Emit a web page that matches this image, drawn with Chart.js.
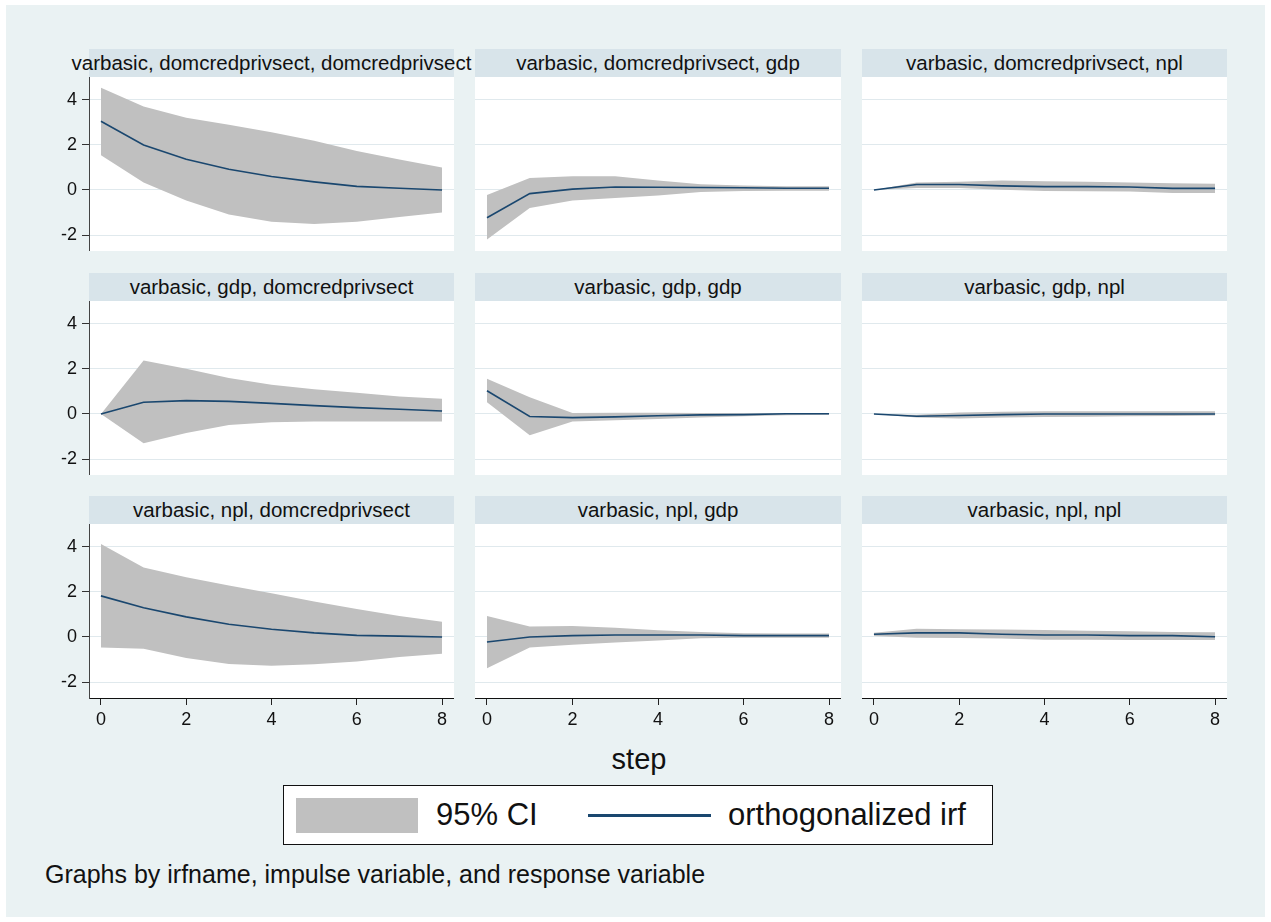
<!DOCTYPE html>
<html>
<head>
<meta charset="utf-8">
<script src="https://cdn.jsdelivr.net/npm/chart.js"></script>
<style>
  html, body { margin: 0; padding: 0; background: #ffffff; }
  body { width: 1271px; height: 922px; position: relative; overflow: hidden;
         font-family: 'Liberation Sans', Arial, sans-serif; }
  #frame { position: absolute; left: 6px; top: 5px; width: 1259px; height: 912px; background: #eaf2f3; }
  .cv { position: absolute; }
  .strip { position: absolute; height: 28px; background: #d8e4ea; z-index: 2; }
  .strip span { position: absolute; left: 50%; top: 0; transform: translateX(-50%);
                white-space: nowrap; font-size: 20.5px; line-height: 28px; color: #111; }
  #xtitle { position: absolute; left: 639px; top: 742px; transform: translateX(-50%);
            font-size: 29px; line-height: 34px; color: #111; z-index: 3; }
  #legend { position: absolute; left: 283px; top: 785px; width: 708px; height: 58px;
            background: #fff; border: 1px solid #111; z-index: 3; }
  #legend .sw { position: absolute; left: 12px; top: 12px; width: 122px; height: 35px; background: #c0c0c0; }
  #legend .t1 { position: absolute; left: 152px; top: 10px; font-size: 31px; line-height: 38px; color: #111; }
  #legend .ln { position: absolute; left: 304px; top: 28px; width: 123px; height: 3px; background: #1a476f; }
  #legend .t2 { position: absolute; left: 444px; top: 10px; font-size: 31px; line-height: 38px; color: #111; }
  #note { position: absolute; left: 45px; top: 860px; font-size: 25px; line-height: 28px; color: #111; z-index: 3; }
</style>
</head>
<body>
<div id="frame"></div>
<div id="xtitle">step</div>
<div id="legend">
  <div class="sw"></div><div class="t1">95% CI</div>
  <div class="ln"></div><div class="t2">orthogonalized irf</div>
</div>
<div id="note">Graphs by irfname, impulse variable, and response variable</div>
<script>
// ---------- data ----------
const steps = [0, 1, 2, 3, 4, 5, 6, 7, 8];
const xTickValues = [0, 2, 4, 6, 8];
const yTickValues = [-2, 0, 2, 4];
const variables = ['domcredprivsect', 'gdp', 'npl'];
const irfName = 'varbasic';

// impulse domcredprivsect
const irf_dc_dc = [3.04, 1.99, 1.36, 0.92, 0.60, 0.36, 0.16, 0.08, 0.00];
const hi_dc_dc  = [4.53, 3.70, 3.20, 2.89, 2.55, 2.18, 1.73, 1.35, 0.99];
const lo_dc_dc  = [1.54, 0.33, -0.46, -1.08, -1.41, -1.50, -1.41, -1.20, -1.00];

const irf_dc_gdp = [-1.23, -0.16, 0.04, 0.13, 0.12, 0.11, 0.10, 0.08, 0.08];
const hi_dc_gdp  = [-0.22, 0.53, 0.61, 0.61, 0.42, 0.25, 0.20, 0.17, 0.17];
const lo_dc_gdp  = [-2.19, -0.80, -0.46, -0.35, -0.24, -0.09, -0.04, -0.03, -0.03];

const irf_dc_npl = [0.00, 0.24, 0.24, 0.18, 0.15, 0.15, 0.13, 0.07, 0.07];
const hi_dc_npl  = [0.00, 0.33, 0.36, 0.42, 0.39, 0.36, 0.33, 0.30, 0.28];
const lo_dc_npl  = [0.00, 0.09, 0.09, 0.01, -0.04, -0.06, -0.07, -0.13, -0.13];

// impulse gdp
const irf_gdp_dc = [0.00, 0.52, 0.59, 0.56, 0.47, 0.37, 0.28, 0.21, 0.13];
const hi_gdp_dc  = [0.00, 2.37, 2.00, 1.59, 1.29, 1.10, 0.94, 0.77, 0.67];
const lo_gdp_dc  = [0.00, -1.30, -0.84, -0.49, -0.37, -0.33, -0.33, -0.33, -0.33];

const irf_gdp_gdp = [1.03, -0.11, -0.16, -0.13, -0.08, -0.04, -0.03, 0.01, 0.01];
const hi_gdp_gdp  = [1.56, 0.74, 0.04, 0.06, 0.06, 0.04, 0.03, 0.02, 0.02];
const lo_gdp_gdp  = [0.52, -0.94, -0.33, -0.28, -0.22, -0.16, -0.10, -0.06, -0.03];

const irf_gdp_npl = [0.00, -0.10, -0.07, -0.03, 0.00, 0.00, 0.00, 0.00, 0.00];
const hi_gdp_npl  = [0.00, -0.03, 0.07, 0.10, 0.12, 0.12, 0.12, 0.12, 0.12];
const lo_gdp_npl  = [0.00, -0.16, -0.20, -0.16, -0.13, -0.12, -0.10, -0.09, -0.07];

// impulse npl
const irf_npl_dc = [1.82, 1.29, 0.89, 0.56, 0.34, 0.18, 0.07, 0.04, 0.00];
const hi_npl_dc  = [4.12, 3.08, 2.64, 2.28, 1.93, 1.57, 1.24, 0.93, 0.67];
const lo_npl_dc  = [-0.47, -0.52, -0.93, -1.19, -1.27, -1.21, -1.08, -0.89, -0.74];

const irf_npl_gdp = [-0.22, 0.00, 0.06, 0.09, 0.09, 0.09, 0.06, 0.06, 0.06];
const hi_npl_gdp  = [0.93, 0.46, 0.49, 0.41, 0.30, 0.22, 0.16, 0.15, 0.15];
const lo_npl_gdp  = [-1.38, -0.46, -0.34, -0.24, -0.15, -0.06, -0.03, -0.03, -0.03];

const irf_npl_npl = [0.12, 0.18, 0.18, 0.12, 0.09, 0.09, 0.06, 0.06, 0.01];
const hi_npl_npl  = [0.19, 0.36, 0.34, 0.33, 0.31, 0.28, 0.25, 0.22, 0.21];
const lo_npl_npl  = [0.04, -0.03, -0.04, -0.07, -0.12, -0.12, -0.13, -0.13, -0.13];

// panels in reading order: rows = impulse, columns = response
const panelIrf = [irf_dc_dc, irf_dc_gdp, irf_dc_npl, irf_gdp_dc, irf_gdp_gdp, irf_gdp_npl, irf_npl_dc, irf_npl_gdp, irf_npl_npl];
const panelHi  = [hi_dc_dc, hi_dc_gdp, hi_dc_npl, hi_gdp_dc, hi_gdp_gdp, hi_gdp_npl, hi_npl_dc, hi_npl_gdp, hi_npl_npl];
const panelLo  = [lo_dc_dc, lo_dc_gdp, lo_dc_npl, lo_gdp_dc, lo_gdp_gdp, lo_gdp_npl, lo_npl_dc, lo_npl_gdp, lo_npl_npl];

// ---------- layout & style ----------
const plotLeft = [89, 475, 862];
const plotWidth = [365, 366, 365];
const plotTop = [77, 301, 524];
const plotHeight = 174;
const yAxisSpace = 69;
const xAxisSpace = 40;
const NAVY = '#1a476f';
const CI = '#c0c0c0';
const GRID = '#e0e9ed';

Chart.defaults.font.family = "'Liberation Sans', Arial, sans-serif";
Chart.defaults.color = '#111';

const whiteArea = {
  id: 'whiteArea',
  beforeDraw(chart) {
    const a = chart.chartArea, c = chart.ctx;
    c.save(); c.fillStyle = '#ffffff';
    c.fillRect(a.left, a.top, a.right - a.left, a.bottom - a.top);
    c.restore();
  }
};

const pts = arr => steps.map((s, i) => ({ x: s, y: arr[i] }));

for (let r = 0; r < 3; r++) {
  for (let c = 0; c < 3; c++) {
    const k = r * 3 + c;
    const extraL = c === 0 ? yAxisSpace : 0;
    const extraB = r === 2 ? xAxisSpace : 0;
    const W = plotWidth[c] + extraL, H = plotHeight + extraB;

    const cv = document.createElement('canvas');
    cv.className = 'cv';
    cv.width = W; cv.height = H;
    cv.style.left = (plotLeft[c] - extraL) + 'px';
    cv.style.top = plotTop[r] + 'px';
    cv.style.width = W + 'px'; cv.style.height = H + 'px';
    document.body.appendChild(cv);

    const strip = document.createElement('div');
    strip.className = 'strip';
    strip.style.left = plotLeft[c] + 'px';
    strip.style.top = (plotTop[r] - 28) + 'px';
    strip.style.width = plotWidth[c] + 'px';
    const sp = document.createElement('span');
    sp.textContent = irfName + ', ' + variables[r] + ', ' + variables[c];
    strip.appendChild(sp);
    document.body.appendChild(strip);

    new Chart(cv, {
      type: 'line',
      data: {
        datasets: [
          { label: '95% CI', data: pts(panelHi[k]), fill: '+1', backgroundColor: CI,
            borderWidth: 0, pointRadius: 0, tension: 0, order: 2 },
          { label: 'lower', data: pts(panelLo[k]), fill: false, borderWidth: 0,
            pointRadius: 0, tension: 0, order: 2 },
          { label: 'orthogonalized irf', data: pts(panelIrf[k]), fill: false,
            borderColor: NAVY, borderWidth: 1.6, pointRadius: 0, tension: 0, order: 1 }
        ]
      },
      options: {
        responsive: false,
        animation: false,
        devicePixelRatio: 1,
        layout: { padding: 0 },
        plugins: { legend: { display: false }, tooltip: { enabled: false }, title: { display: false } },
        scales: {
          x: {
            type: 'linear',
            display: r === 2,
            min: -0.28, max: 8.28,
            afterBuildTicks: s => { s.ticks = xTickValues.map(v => ({ value: v })); },
            afterFit: s => { s.height = extraB; s.paddingLeft = 0; s.paddingRight = 0; },
            grid: { display: true, drawOnChartArea: false, drawTicks: true, tickLength: 7, tickColor: '#222', tickWidth: 1 },
            border: { display: true, color: '#111', width: 1 },
            ticks: { font: { size: 18 }, color: '#111', padding: 4, maxRotation: 0, autoSkip: false }
          },
          y: {
            type: 'linear',
            min: -2.7, max: 5.0,
            afterBuildTicks: s => { s.ticks = yTickValues.map(v => ({ value: v })); },
            afterFit: s => { s.width = extraL; s.paddingTop = 0; s.paddingBottom = 0; },
            grid: { color: GRID, lineWidth: 1, drawTicks: c === 0, tickLength: 7, tickColor: '#333' },
            border: { display: c === 0, color: '#444', width: 1 },
            ticks: { display: c === 0, font: { size: 18 }, color: '#111', padding: 5 }
          }
        }
      },
      plugins: [whiteArea]
    });
  }
}
</script>
</body>
</html>
